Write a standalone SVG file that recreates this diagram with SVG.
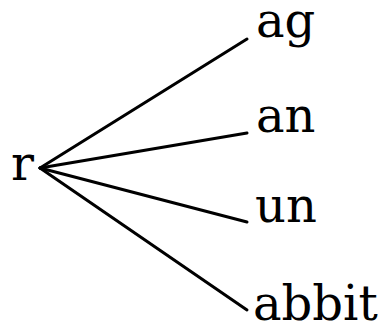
<svg xmlns="http://www.w3.org/2000/svg" width="388" height="330" viewBox="0 0 388 330">
<style>
text{font-family:"DejaVu Serif","Liberation Serif",serif;font-size:48px;fill:#000}
.c line{stroke:#000;stroke-width:3;stroke-linecap:round}
</style>
<rect width="388" height="330" fill="#fff"/>
<g id="root"><text x="11" y="180">r</text></g>
<g class="c" id="connectors">
<line x1="40" y1="168" x2="247" y2="39"/>
<line x1="40" y1="168" x2="247" y2="133"/>
<line x1="40" y1="168" x2="247" y2="222"/>
<line x1="40" y1="168" x2="247" y2="310"/>
</g>
<g id="n-ag"><text x="256" y="37">ag</text></g>
<g id="n-an"><text x="256" y="132">an</text></g>
<g id="n-un"><text x="255" y="222">un</text></g>
<g id="n-abbit"><text x="253" y="320">abbit</text></g>
</svg>
